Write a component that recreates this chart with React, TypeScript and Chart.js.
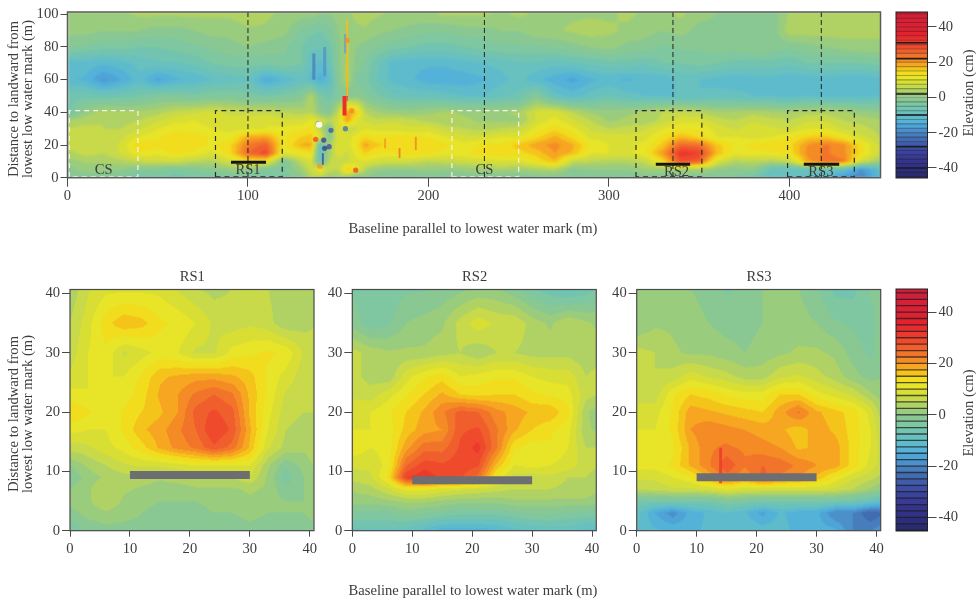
import React, { useEffect, useRef } from "react";
import { Chart, registerables } from "chart.js";

Chart.register(...registerables);

const FONT = '"Liberation Serif", serif';
const INK = "#3c3c3c";

/* ---------- colour scale ---------- */
const stopValues = [-47, -42, -35, -30, -25, -20, -15, -10, -5, 0, 3, 6, 9, 12, 15, 18, 21, 25, 30, 36, 50];
const stopColors = ["#2a2a5a", "#2c2c7c", "#36368f", "#3d469f", "#3e63ad", "#4a86c2", "#50aede", "#62bfc6", "#78c6a8", "#8fc98a", "#a9d06c", "#c6d94c", "#dbdf33", "#ece624", "#f5d418", "#f6ae1f", "#f58d24", "#f1692d", "#ee3f2c", "#e3212f", "#c91f3c"];
const bandLevels = [-47.5, -45, -42.5, -40, -37.5, -35, -32.5, -30, -27.5, -25, -22.5, -20, -17.5, -15, -12.5, -10, -7.5, -5, -2.5, 0, 2.5, 5, 7.5, 10, 12.5, 15, 17.5, 20, 22.5, 25, 27.5, 30, 32.5, 35, 37.5, 40, 42.5, 45, 47.5];
const BAND = 2.5;
const elevTicks = [-40, -20, 0, 20, 40];
const topBarStrongLines = [31, 22, 2, -10, -28, -40];

const stopRgb = stopColors.map((h) => [parseInt(h.slice(1, 3), 16), parseInt(h.slice(3, 5), 16), parseInt(h.slice(5, 7), 16)]);
function rawRgb(v: number): number[] {
  if (v <= stopValues[0]) return stopRgb[0];
  for (let i = 1; i < stopValues.length; i++) {
    if (v <= stopValues[i]) {
      const t = (v - stopValues[i - 1]) / (stopValues[i] - stopValues[i - 1]);
      return stopRgb[i].map((c, k) => stopRgb[i - 1][k] + (c - stopRgb[i - 1][k]) * t);
    }
  }
  return stopRgb[stopRgb.length - 1];
}
function bandRgb(v: number): number[] {
  return rawRgb(Math.floor(v / BAND) * BAND + BAND / 2);
}
const css = (c: number[], a = 1) => `rgba(${c.map((x) => Math.round(x)).join(",")},${a})`;

/* ---------- top survey grid ---------- */
const topX = [0, 10, 20, 30, 40, 50, 60, 70, 80, 90, 100, 110, 120, 130, 135, 140, 145, 150, 155, 160, 165, 170, 180, 190, 200, 210, 220, 230, 240, 250, 260, 270, 280, 290, 300, 310, 320, 330, 340, 350, 360, 370, 380, 390, 400, 410, 420, 430, 440, 450];
const topY = [0, 5, 10, 15, 20, 25, 30, 35, 40, 50, 60, 70, 80, 90, 100];
const top0 = [-3, -2, -3, -3, -6, -4, -6, -5, -5, -4, -4, -4, -4, -1, 4, 4, 1, 2, 1, -3, -1, -2, -3, -3, -3, -3, -2, -3, -3, -3, -2, -2, -3, -3, -3, -3, -2, -3, -3, -3, -2, -3, -6, -10, -10, -11, -12, -18, -20, -12];
const top5 = [-1, 1, 1, 0, -2, -2, -4, -2, -1, 1, 0, -3, -3, 2, 7, 12, 6, 5, 16, 12, 4, 1, 0, 0, 1, 0, 1, 2, 3, 2, 3, 4, -1, 0, 0, 0, 2, 2, 3, 3, 0, -1, 0, -8, -9, -8, -7, -10, -18, -11];
const top10 = [1, 3, 3, 4, 6, 7, 7, 5, 4, 8, 13, 12, -3, 6, 9, -8, 5, 6, 7, 9, 10, 8, 7, 7, 5, 6, 7, 8, 9, 9, 13, 17, 6, 5, 4, 4, 6, 14, 28, 26, 9, 4, 5, 4, 6, 19, 24, 23, 8, 2];
const top15 = [4, 6, 5, 8, 12, 11, 13, 12, 9, 14, 25, 29, 10, 12, 13, -10, 3, 9, 7, 11, 15, 13, 12, 15, 13, 11, 12, 14, 15, 14, 16, 20, 17, 10, 10, 9, 12, 20, 32, 30, 17, 11, 12, 12, 13, 21, 23, 21, 13, 7];
const top20 = [6, 7, 6, 8, 15, 13, 15, 14, 12, 14, 23, 26, 12, 18, 18, -8, 2, 10, 8, 13, 19, 16, 14, 15, 15, 13, 11, 13, 13, 16, 19, 21, 18, 12, 10, 9, 11, 16, 25, 24, 16, 12, 13, 14, 14, 20, 23, 21, 13, 7];
const top25 = [5, 6, 5, 7, 10, 12, 14, 14, 12, 11, 18, 19, 12, 15, 16, 10, -2, 9, 9, 11, 14, 13, 13, 13, 12, 10, 8, 8, 10, 10, 14, 18, 14, 9, 9, 8, 9, 13, 17, 14, 10, 10, 9, 10, 12, 15, 16, 12, 8, 5];
const top30 = [5, 6, 5, 5, 7, 10, 12, 11, 10, 9, 9, 10, 11, 12, 13, 5, -3, 10, 5, 7, 10, 9, 9, 8, 9, 6, 5, 4, 5, 6, 11, 14, 11, 7, 5, 6, 7, 10, 12, 12, 9, 7, 9, 8, 7, 10, 10, 7, 6, 4];
const top35 = [3, 4, 5, 4, 5, 7, 9, 10, 9, 8, 9, 10, 8, 8, 11, 8, 5, 8, 20, 10, 7, 6, 7, 6, 4, 3, 3, 2, 2, 2, 8, 11, 8, 5, 2, 3, 3, 6, 9, 9, 6, 5, 7, 6, 5, 7, 7, 5, 4, 3];
const top40 = [-6, 1, 4, 3, 3, 4, 6, 7, 8, 7, 6, 6, 5, 4, 5, 0, -2, 6, 20, 16, 5, 3, 1, 1, 2, 3, 2, 2, 2, 3, 8, 9, 5, 2, 1, 2, 3, 5, 6, 5, 3, 3, 4, 3, 3, 4, 4, 3, 1, 0];
const top50 = [-6, -6, -7, -6, -5, -3, -3, -4, -3, -3, -4, -5, -4, -2, 4, -4, -6, -3, -2, -1, -2, -4, -7, -8, -8, -9, -10, -10, -8, -7, -2, -9, -11, -9, -7, -9, -10, -10, -10, -10, -9, -9, -10, -10, -11, -10, -11, -11, -11, -10];
const top60 = [-12, -13, -18, -15, -11, -16, -13, -12, -10, -9, -8, -15, -12, -9, -11, -14, -11, -2, 4, -3, -4, -7, -11, -12, -14, -14, -14, -13, -11, -9, -12, -14, -16, -13, -12, -13, -12, -12, -9, -10, -11, -12, -11, -11, -12, -12, -11, -12, -12, -11];
const top70 = [-11, -11, -12, -11, -9, -8, -8, -7, -5, -4, -4, -4, -3, -5, -9, -11, -8, -1, 3, -1, -3, -6, -11, -12, -12, -12, -11, -10, -9, -8, -8, -9, -8, -7, -6, -6, -7, -5, -5, -4, -5, -6, -6, -6, -7, -5, -5, -5, -5, -4];
const top80 = [-2, -3, -4, -4, -5, -5, -4, -3, -2, -1, 0, -1, -2, -5, -7, -7, -6, -1, 3, 0, -1, -2, -4, -5, -6, -6, -5, -4, -3, -3, -3, -2, -1, 0, 1, -1, -1, -3, -2, -2, -1, -1, 0, -1, -2, -1, 0, 1, 2, 2];
const top90 = [1, 1, 0, 0, 0, -1, -1, 0, 1, 1, 2, 2, 1, -3, -4, -5, -3, 0, 2, 2, 2, 1, 0, -1, -2, -2, -1, -1, 0, 0, 2, 2, 3, 4, 3, 2, 1, 0, 1, -1, -1, -2, -1, -2, 4, 4, 4, 4, 3, 3];
const top100 = [2, 2, 1, 2, 3, 3, 3, 3, 3, 3, 4, 3, 2, 1, 1, 0, 0, 1, 2, 3, 4, 3, 2, 2, 2, 3, 3, 3, 2, 3, 2, 2, 2, 2, 2, 3, 2, 2, 3, 1, 0, -1, -1, -2, 3, 3, 4, 3, 3, 3];
const topRows = [top0, top5, top10, top15, top20, top25, top30, top35, top40, top50, top60, top70, top80, top90, top100];

/* narrow features of the top survey */
const streakX = [155, 153.5, 155, 136.5, 142.5, 154, 141.5, 176, 184, 193];
const streakY0 = [50, 38, 47, 60, 62, 76, 8, 18, 12, 17];
const streakY1 = [97, 50, 56, 76, 80, 88, 15, 24, 18, 25];
const streakV = [17, 33, 29, -22, -19, -16, -36, 22, 27, 24];
const spotX = [157.5, 154, 146, 137.5, 142, 145, 139.8, 159.7, 155, 142.5, 139];
const spotY = [41, 30, 29, 23.5, 23, 19, 7, 4.6, 84, 18, 33];
const spotV = [22, -24, -28, 30, -35, -30, 20, 30, 21, -35, -30];
const whiteX = [139.4];
const whiteY = [32.5];

/* ---------- site grids ---------- */
const siteX = [0, 3, 6, 9, 12, 15, 18, 21, 24, 27, 30, 33, 36, 39, 41];
const siteY = [0, 3, 5, 7, 9, 11, 14, 17, 20, 23, 26, 30, 35, 41];

const rs1y0 = [-5, -2, -1, -1, -1, -2, -2, -2, -2, -2, -1, -2, -2, -1, -1];
const rs1y3 = [-1, 1, 2, 1, 0, -1, -1, -1, 0, 0, 1, 0, 0, 0, 1];
const rs1y5 = [1, 2, 5, 2, 1, 0, 0, 0, 1, 1, 2, 1, 0, 0, 1];
const rs1y7 = [0, 2, 5, 3, 2, 1, 1, 2, 2, 2, 3, 2, -2, 0, 1];
const rs1y9 = [-2, 1, 3, 4, 4, 3, 4, 5, 5, 5, 7, 2, -4, 0, 2];
const rs1y11 = [0, 3, 5, 7, 8, 8, 9, 10, 10, 10, 10, 3, -2, 1, 3];
const rs1y14 = [6, 7, 9, 11, 14, 18, 21, 23, 27, 24, 17, 8, 4, 3, 4];
const rs1y17 = [11, 10, 10, 13, 17, 19, 22, 25, 30, 27, 18, 10, 5, 4, 5];
const rs1y20 = [15, 13, 10, 13, 15, 17, 20, 26, 28, 26, 17, 11, 6, 5, 5];
const rs1y23 = [11, 10, 10, 11, 14, 18, 20, 23, 25, 23, 17, 12, 7, 6, 5];
const rs1y26 = [8, 10, 10, 10, 13, 17, 18, 19, 19, 18, 16, 12, 9, 6, 5];
const rs1y30 = [6, 10, 12, 7, 9, 11, 10, 7, 7, 11, 12, 13, 12, 7, 6];
const rs1y35 = [5, 9, 14, 17, 16, 13, 12, 10, 7, 6, 7, 6, 3, 4, 5];
const rs1y41 = [3, 7, 9, 9, 9, 9, 7, 5, 4, 5, 7, 5, 3, 4, 5];
const rs1Rows = [rs1y0, rs1y3, rs1y5, rs1y7, rs1y9, rs1y11, rs1y14, rs1y17, rs1y20, rs1y23, rs1y26, rs1y30, rs1y35, rs1y41];

const rs2y0 = [-8, -8, -8, -9, -11, -14, -14, -14, -13, -11, -10, -9, -9, -11, -11];
const rs2y3 = [-3, -3, -3, -1, -2, -3, -4, -4, -4, -3, -2, -2, -3, -3, -4];
const rs2y5 = [1, 1, 2, 3, 3, 2, 1, 1, 1, 2, 2, 2, 2, 2, 1];
const rs2y7 = [3, 4, 7, 11, 11, 9, 8, 7, 6, 5, 5, 5, 4, 4, 3];
const rs2y9 = [6, 7, 13, 30, 32, 29, 28, 24, 12, 6, 6, 7, 5, 5, 4];
const rs2y11 = [8, 8, 11, 25, 29, 28, 29, 28, 17, 10, 11, 10, 9, 6, 5];
const rs2y14 = [12, 10, 11, 19, 24, 24, 28, 31, 23, 13, 11, 12, 10, 5, 5];
const rs2y17 = [10, 10, 11, 16, 19, 20, 27, 28, 23, 18, 15, 13, 11, 3, 2];
const rs2y20 = [9, 10, 12, 15, 18, 22, 26, 25, 21, 19, 17, 17, 13, 3, 1];
const rs2y23 = [7, 6, 9, 12, 15, 18, 15, 14, 15, 15, 13, 12, 11, 6, 5];
const rs2y26 = [6, 4, 3, 9, 12, 14, 10, 11, 12, 12, 10, 9, 9, 5, 6];
const rs2y30 = [6, 4, 3, 3, 3, 4, 5, 3, 5, 5, 4, 4, 4, 3, 4];
const rs2y35 = [-1, -4, -3, 0, 1, 2, 6, 9, 7, 7, 4, 2, 5, 3, 2];
const rs2y41 = [-3, -5, -4, -3, -3, -2, -1, 0, 0, -2, -5, -7, -9, -7, -5];
const rs2Rows = [rs2y0, rs2y3, rs2y5, rs2y7, rs2y9, rs2y11, rs2y14, rs2y17, rs2y20, rs2y23, rs2y26, rs2y30, rs2y35, rs2y41];

const rs3y0 = [-10, -12, -13, -13, -12, -10, -10, -11, -11, -14, -14, -14, -20, -20, -18];
const rs3y3 = [-9, -15, -19, -14, -12, -10, -12, -16, -12, -14, -14, -20, -20, -25, -23];
const rs3y5 = [-5, -5, -5, -5, -5, -3, -4, -5, -5, -5, -5, -5, -6, -8, -10];
const rs3y7 = [5, 6, 7, 7, 8, 10, 8, 8, 8, 8, 8, 7, 5, 2, 0];
const rs3y9 = [8, 8, 10, 12, 18, 24, 20, 26, 22, 20, 17, 12, 8, 6, 4];
const rs3y11 = [11, 11, 13, 18, 22, 27, 23, 25, 24, 22, 20, 19, 14, 9, 6];
const rs3y14 = [11, 10, 12, 18, 22, 23, 22, 21, 20, 17, 18, 19, 14, 10, 6];
const rs3y17 = [10, 10, 13, 20, 22, 21, 20, 19, 18, 16, 19, 17, 14, 10, 5];
const rs3y20 = [8, 9, 13, 19, 18, 17, 16, 15, 19, 23, 18, 16, 14, 9, 3];
const rs3y23 = [7, 6, 12, 15, 14, 12, 11, 11, 15, 15, 11, 9, 7, 3, 1];
const rs3y26 = [6, 5, 6, 9, 7, 6, 4, 4, 7, 8, 6, 4, 1, -1, 0];
const rs3y30 = [6, 5, 3, 2, 2, 1, 0, 1, 2, 3, 3, 2, -1, -3, 0];
const rs3y35 = [0, 2, 2, 1, 0, -1, -1, 0, 1, 1, 0, -2, -3, -4, 0];
const rs3y41 = [0, 1, 0, 0, -1, -3, -2, 0, 1, 0, -2, -6, -6, -2, 0];
const rs3Rows = [rs3y0, rs3y3, rs3y5, rs3y7, rs3y9, rs3y11, rs3y14, rs3y17, rs3y20, rs3y23, rs3y26, rs3y30, rs3y35, rs3y41];

/* ---------- axis ticks, labels, annotations ---------- */
const topXTicks = [0, 100, 200, 300, 400];
const topYTicks = [0, 20, 40, 60, 80, 100];
const siteTicks = [0, 10, 20, 30, 40];

const profileX = [100, 231, 335.5, 417.7];
const boxNames = ["CS", "RS1", "CS", "RS2", "RS3"];
const boxX0 = [1, 82, 213, 315, 399];
const boxX1 = [39, 119, 250, 351.5, 436];
const boxColors = ["#f4f4ea", "#2a2a2a", "#f4f4ea", "#2a2a2a", "#2a2a2a"];
const boxLabelX = [20, 100, 231, 337.5, 417.5];
const boxLabelY = [4.5, 4.5, 4.5, 3.5, 3.5];
const reefX0 = [90.6, 326, 408];
const reefX1 = [110, 345, 427.6];
const reefY = [9.4, 8.3, 8.3];
const siteNames = ["RS1", "RS2", "RS3"];
const siteBarY = [9.4, 8.5, 9];
const rs3SpikeX = [14];
const rs3SpikeY0 = [8];
const rs3SpikeY1 = [14];
const rs3SpikeV = [30];

type Txt = { s: string; x: number; y: number; rot?: boolean };
const Y_TITLE_A = "Distance to landward from";
const Y_TITLE_B = "lowest low water mark (m)";
const X_TITLE = "Baseline parallel to lowest water mark (m)";
const BAR_TITLE = "Elevation (cm)";

/* ---------- plugins ---------- */
function locate(axis: number[], v: number): [number, number] {
  if (v <= axis[0]) return [0, 0];
  for (let i = 1; i < axis.length; i++) {
    if (v <= axis[i]) return [i - 1, (v - axis[i - 1]) / (axis[i] - axis[i - 1])];
  }
  return [axis.length - 2, 1];
}

function heatPlugin(xs: number[], ys: number[], rows: number[][], blur: number) {
  return {
    id: "heat",
    beforeDatasetsDraw(chart: any) {
      const { left, top, width, height } = chart.chartArea;
      const w = Math.ceil(width);
      const h = Math.ceil(height);
      const off = document.createElement("canvas");
      off.width = w;
      off.height = h;
      const oc = off.getContext("2d")!;
      const img = oc.createImageData(w, h);
      const xa = chart.scales.x;
      const ya = chart.scales.y;
      const xl = Array.from({ length: w }, (_, i) => locate(xs, xa.getValueForPixel(left + i + 0.5)));
      for (let j = 0; j < h; j++) {
        const [r, ty] = locate(ys, ya.getValueForPixel(top + j + 0.5));
        const r0 = rows[r];
        const r1 = rows[r + 1];
        for (let i = 0; i < w; i++) {
          const [c, tx] = xl[i];
          const v = (r0[c] * (1 - tx) + r0[c + 1] * tx) * (1 - ty) + (r1[c] * (1 - tx) + r1[c + 1] * tx) * ty;
          const rgb = bandRgb(v);
          const k = (j * w + i) * 4;
          img.data[k] = rgb[0];
          img.data[k + 1] = rgb[1];
          img.data[k + 2] = rgb[2];
          img.data[k + 3] = 255;
        }
      }
      oc.putImageData(img, 0, 0);
      const ctx = chart.ctx;
      ctx.save();
      ctx.beginPath();
      ctx.rect(left, top, width, height);
      ctx.clip();
      ctx.filter = `blur(${blur}px)`;
      ctx.drawImage(off, left, top);
      ctx.restore();
    },
  };
}

function framePlugin(color: string, lw: number) {
  return {
    id: "frame",
    afterDatasetsDraw(chart: any) {
      const { left, top, width, height } = chart.chartArea;
      const ctx = chart.ctx;
      ctx.save();
      ctx.strokeStyle = color;
      ctx.lineWidth = lw;
      ctx.strokeRect(left, top, width, height);
      ctx.restore();
    },
  };
}

function textPlugin(list: Txt[], dataLabels?: { s: string; x: number; y: number }[]) {
  return {
    id: "texts",
    afterDraw(chart: any) {
      const ctx = chart.ctx;
      ctx.save();
      ctx.fillStyle = INK;
      ctx.font = `14.6px ${FONT}`;
      ctx.textAlign = "center";
      ctx.textBaseline = "middle";
      for (const t of list) {
        ctx.save();
        ctx.translate(t.x, t.y);
        if (t.rot) ctx.rotate(-Math.PI / 2);
        ctx.fillText(t.s, 0, 0);
        ctx.restore();
      }
      for (const t of dataLabels || []) {
        ctx.fillText(t.s, chart.scales.x.getPixelForValue(t.x), chart.scales.y.getPixelForValue(t.y));
      }
      ctx.restore();
    },
  };
}

/* ---------- shared axis ---------- */
function axis(opts: any) {
  const { min, max, ticks, tickLength, padding, size, showLabels = true, position } = opts;
  return {
    type: "linear",
    position,
    min,
    max,
    afterBuildTicks(scale: any) {
      scale.ticks = ticks.map((value: number) => ({ value }));
    },
    afterFit(scale: any) {
      if (position === "bottom") scale.height = size;
      else scale.width = size;
    },
    grid: { drawOnChartArea: false, drawTicks: true, tickLength, color: "#4a4a4a", lineWidth: 1 },
    border: { display: false },
    ticks: {
      autoSkip: false,
      maxRotation: 0,
      display: showLabels,
      color: INK,
      padding,
      font: { family: FONT, size: 14.6 },
    },
  };
}

const lineDs = (points: { x: number; y: number }[], color: string, width: number, dash: number[] = []) => ({
  data: points,
  showLine: true,
  pointRadius: 0,
  borderColor: color,
  borderWidth: width,
  borderDash: dash,
  borderCapStyle: "butt",
  tension: 0,
  fill: false,
});

const commonOpts = {
  animation: false,
  responsive: false,
  events: [],
  plugins: { legend: { display: false }, tooltip: { enabled: false }, title: { display: false } },
};

const W = 978;
const H = 600;

function topConfig() {
  const l = 67.5, r = 880.5, t = 12, b = 177.7;
  const yW = 60, xH = 40;
  const datasets: any[] = [];
  reefX0.forEach((x0, i) => datasets.push(lineDs([{ x: x0, y: reefY[i] }, { x: reefX1[i], y: reefY[i] }], "#141414", 3)));
  boxX0.forEach((x0, i) => {
    const x1 = boxX1[i];
    datasets.push(lineDs([{ x: x0, y: 0.5 }, { x: x0, y: 41 }, { x: x1, y: 41 }, { x: x1, y: 0.5 }, { x: x0, y: 0.5 }], boxColors[i], 1.2, [5, 4]));
  });
  profileX.forEach((x) => datasets.push(lineDs([{ x, y: 101.4 }, { x, y: 0 }], "#222", 1, [5, 3])));
  datasets.push({
    data: whiteX.map((x, i) => ({ x, y: whiteY[i] })),
    pointRadius: 3.2,
    pointBackgroundColor: "rgba(255,255,255,0.95)",
    pointBorderWidth: 0,
    showLine: false,
  });
  datasets.push({
    data: spotX.map((x, i) => ({ x, y: spotY[i] })),
    pointRadius: 2.6,
    pointBorderWidth: 0,
    pointBackgroundColor: spotV.map((v) => css(rawRgb(v), 0.75)),
    showLine: false,
  });
  streakX.forEach((x, i) =>
    datasets.push(lineDs([{ x, y: streakY0[i] }, { x, y: streakY1[i] }], css(rawRgb(streakV[i]), i === 0 || i === 1 ? 1 : 0.7), i === 1 ? 4 : i >= 3 && i <= 5 ? 3 : 1.8))
  );
  return {
    type: "scatter",
    data: { datasets },
    options: {
      ...commonOpts,
      layout: { padding: { left: l - yW, right: W - r, top: t, bottom: H - b - xH } },
      scales: {
        x: axis({ position: "bottom", min: 0, max: 450.5, ticks: topXTicks, tickLength: 9, padding: 1, size: xH }),
        y: axis({ position: "left", min: 0, max: 101.4, ticks: topYTicks, tickLength: 7, padding: 2, size: yW }),
      },
    },
    plugins: [
      heatPlugin(topX, topY, topRows, 0.9),
      framePlugin("#5a5a5a", 1.5),
      textPlugin(
        [
          { s: Y_TITLE_A, x: 14, y: 99, rot: true },
          { s: Y_TITLE_B, x: 28, y: 99, rot: true },
          { s: X_TITLE, x: 473, y: 229 },
        ],
        boxNames.map((s, i) => ({ s, x: boxLabelX[i], y: boxLabelY[i] }))
      ),
    ],
  };
}

function siteConfig(i: number, l: number, rows: number[][], extra: Txt[]) {
  const r = l + 244, t = 289.5, b = 530.7;
  const yW = l - 8, xH = 40;
  const y = siteBarY[i];
  const datasets: any[] = [lineDs([{ x: 10, y }, { x: 30, y }], "#6d6e71", 8)];
  if (i === 2) {
    rs3SpikeX.forEach((x, k) =>
      datasets.push(lineDs([{ x, y: rs3SpikeY0[k] }, { x, y: rs3SpikeY1[k] }], css(rawRgb(rs3SpikeV[k]), 0.9), 3))
    );
  }
  return {
    type: "scatter",
    data: { datasets },
    options: {
      ...commonOpts,
      layout: { padding: { left: l - yW, right: W - r, top: t, bottom: H - b - xH } },
      scales: {
        x: axis({ position: "bottom", min: 0, max: 40.7, ticks: siteTicks, tickLength: 6, padding: 4, size: xH }),
        y: axis({ position: "left", min: 0, max: 40.7, ticks: siteTicks, tickLength: 8, padding: 2, size: yW }),
      },
    },
    plugins: [
      heatPlugin(siteX, siteY, rows, 0.5),
      framePlugin("#4a4a4a", 1.2),
      textPlugin(extra, [{ s: siteNames[i], x: 20.4, y: 42.7 }]),
    ],
  };
}

function barConfig(t: number, b: number, min: number, max: number, lineAlpha: number, strong: number[], title: Txt) {
  const l = 896, r = 927.5, yW = 50;
  const datasets: any[] = [];
  strong.forEach((v) =>
    datasets.push({ data: [[v - 0.25, v + 0.25]], backgroundColor: "#1c1c1c", grouped: false, barPercentage: 1, categoryPercentage: 1 })
  );
  bandLevels.forEach((v) =>
    datasets.push({ data: [[v - 0.12, v + 0.12]], backgroundColor: `rgba(30,30,30,${lineAlpha})`, grouped: false, barPercentage: 1, categoryPercentage: 1 })
  );
  bandLevels.forEach((v) =>
    datasets.push({ data: [[v, v + BAND]], backgroundColor: css(bandRgb(v + 0.01)), grouped: false, barPercentage: 1, categoryPercentage: 1 })
  );
  return {
    type: "bar",
    data: { labels: ["Elevation"], datasets },
    options: {
      ...commonOpts,
      layout: { padding: { left: l, right: W - r - yW, top: t, bottom: H - b } },
      scales: {
        x: { type: "category", display: false },
        y: axis({ position: "right", min, max, ticks: elevTicks, tickLength: 9, padding: 2, size: yW }),
      },
    },
    plugins: [framePlugin("#222", 1), textPlugin([title])],
  };
}

function ChartCanvas({ make }: { make: () => any }) {
  const ref = useRef<HTMLCanvasElement>(null);
  useEffect(() => {
    const c = new Chart(ref.current as HTMLCanvasElement, make());
    return () => c.destroy();
  }, [make]);
  return <canvas ref={ref} width={W} height={H} style={{ position: "absolute", left: 0, top: 0, width: W, height: H }} />;
}

const makers = [
  topConfig,
  () =>
    siteConfig(0, 70, rs1Rows, [
      { s: Y_TITLE_A, x: 14, y: 414, rot: true },
      { s: Y_TITLE_B, x: 28, y: 414, rot: true },
    ]),
  () => siteConfig(1, 352.3, rs2Rows, [{ s: X_TITLE, x: 473, y: 591 }]),
  () => siteConfig(2, 636.7, rs3Rows, []),
  () => barConfig(12, 178, -45.7, 48.5, 0.35, topBarStrongLines, { s: BAR_TITLE, x: 969, y: 93, rot: true }),
  () => barConfig(289, 531, -45.3, 49, 0.75, [], { s: BAR_TITLE, x: 969, y: 413, rot: true }),
];

export default function App() {
  return (
    <div style={{ position: "absolute", left: 0, top: 0, width: W, height: H, background: "#fff", overflow: "hidden" }}>
      {makers.map((m, i) => (
        <ChartCanvas key={i} make={m} />
      ))}
    </div>
  );
}
